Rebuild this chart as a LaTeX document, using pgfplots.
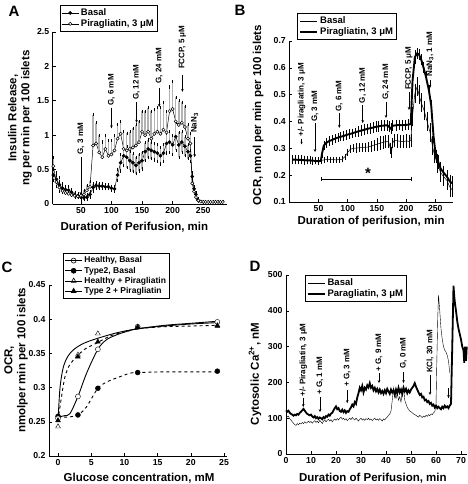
\documentclass[border=0pt]{standalone}
\usepackage{fontspec}
\setmainfont{Liberation Sans}
\usepackage{pgfplots}
\usepackage{pgfplotstable}
\pgfplotsset{compat=1.18}
\usetikzlibrary{arrows.meta}

\newcommand{\tkf}{\fontsize{8.7}{10}\selectfont\bfseries}
\newcommand{\lbf}{\fontsize{11.5}{13}\selectfont\bfseries}
\newcommand{\anf}{\fontsize{8}{9}\selectfont\bfseries}
\newcommand{\lgf}{\fontsize{9.5}{10}\selectfont\bfseries}
\newcommand{\lgc}{\fontsize{8.5}{9}\selectfont\bfseries}
\newcommand{\annot}[5]{%
  \draw[-{Stealth[length=3pt,width=2.6pt]}, line width=0.5pt] (axis cs:#1,#2) -- (axis cs:#1,#3);
  \node[rotate=90, anchor=west, font=\anf, inner sep=0pt] at (axis cs:#1,#4) {#5};}

\pgfplotsset{
  panel/.style={
    scale only axis, axis lines=left, axis line style={-, line width=0.8pt},
    tick align=inside, major tick length=3pt, tick style={black, line width=0.6pt},
    ticklabel style={font=\tkf}, /pgf/number format/assume math mode=true,
    label style={font=\lbf},
    legend style={draw=black, line width=0.5pt, fill=white, font=\lgf, inner sep=1.5pt, row sep=-1.5pt},
    legend cell align=left,
    clip=false,
  },
}

% ---------- Panel A ----------
\pgfplotstableread{
x y e
5 0.42 0.08
10 0.36 0.10
15 0.28 0.10
20 0.23 0.06
25 0.21 0.05
30 0.20 0.05
35 0.17 0.04
40 0.13 0.04
45 0.12 0.03
50 0.10 0.03
55 0.09 0.03
60 0.10 0.03
65 0.14 0.04
70 0.24 0.05
75 0.27 0.04
80 0.26 0.04
85 0.26 0.03
90 0.25 0.03
95 0.25 0.03
100 0.23 0.03
105 0.22 0.03
110 0.42 0.08
115 0.60 0.12
120 0.70 0.14
125 0.68 0.15
130 0.63 0.14
135 0.60 0.13
140 0.56 0.12
145 0.60 0.12
150 0.63 0.12
155 0.76 0.13
160 0.80 0.13
165 0.78 0.12
170 0.76 0.12
175 0.74 0.12
180 0.70 0.12
185 0.74 0.12
190 0.88 0.14
195 0.90 0.15
200 0.86 0.14
205 0.98 0.20
210 0.86 0.18
215 0.90 0.15
220 0.84 0.14
225 0.76 0.10
229 0.70 0.08
232 0.40 0.05
235 0.22 0.03
238 0.14 0.02
241 0.06 0.02
}\Abasal
\pgfplotstableread{
x y e
5 0.55 0.12
10 0.32 0.10
15 0.24 0.08
20 0.19 0.06
25 0.16 0.05
30 0.15 0.05
35 0.13 0.04
40 0.12 0.04
45 0.11 0.04
50 0.12 0.05
55 0.14 0.06
60 0.20 0.07
65 0.25 0.08
70 0.85 0.45
75 0.88 0.30
80 0.75 0.25
85 0.68 0.22
90 0.80 0.20
95 0.70 0.22
100 0.72 0.20
105 0.78 0.22
110 0.95 0.20
115 1.02 0.18
120 0.80 0.25
125 0.78 0.25
130 0.80 0.25
135 0.82 0.28
140 0.85 0.30
145 0.90 0.30
150 1.05 0.30
155 1.00 0.35
160 1.05 0.35
165 0.95 0.40
170 1.02 0.35
175 1.05 0.35
180 1.02 0.38
185 1.08 0.40
190 1.04 0.30
195 1.35 0.35
200 1.38 0.40
205 1.20 0.35
210 1.15 0.35
215 1.18 0.30
220 1.12 0.30
225 0.95 0.20
229 0.88 0.15
232 0.30 0.05
235 0.18 0.03
238 0.10 0.02
242 0.05 0.01
246 0.035 0.005
250 0.03 0.005
254 0.03 0.005
258 0.03 0.005
262 0.03 0.005
266 0.03 0.005
270 0.03 0.005
274 0.03 0.005
278 0.03 0.005
282 0.03 0.005
}\Apir

% ---------- Panel B ----------
\pgfplotstableread{
x y e
5 0.258 0.012
10 0.258 0.012
15 0.257 0.012
20 0.258 0.012
25 0.256 0.012
30 0.256 0.010
35 0.255 0.010
40 0.254 0.010
45 0.253 0.008
50 0.254 0.008
55 0.255 0.008
60 0.257 0.006
65 0.259 0.006
70 0.258 0.006
75 0.258 0.006
80 0.257 0.006
85 0.258 0.006
90 0.259 0.006
95 0.268 0.006
100 0.285 0.008
105 0.297 0.010
110 0.300 0.010
115 0.301 0.012
120 0.302 0.012
125 0.303 0.012
130 0.304 0.012
135 0.305 0.012
140 0.308 0.015
145 0.312 0.015
150 0.315 0.018
155 0.319 0.020
160 0.322 0.020
165 0.325 0.020
170 0.326 0.020
173 0.300 0.015
175 0.285 0.015
177 0.320 0.015
180 0.330 0.020
185 0.328 0.020
190 0.326 0.020
195 0.325 0.020
200 0.327 0.020
205 0.326 0.020
208 0.330 0.020
211 0.420 0.030
215 0.505 0.030
219 0.530 0.030
222 0.500 0.030
226 0.470 0.030
231 0.440 0.030
236 0.400 0.030
241 0.360 0.030
245 0.310 0.030
248 0.280 0.030
253 0.245 0.030
259 0.210 0.030
264 0.195 0.030
270 0.180 0.030
275 0.155 0.030
279 0.145 0.020
}\Bbasal
\pgfplotstableread{
x y e
5 0.258 0.012
10 0.258 0.012
15 0.257 0.012
20 0.257 0.012
25 0.256 0.012
30 0.255 0.010
35 0.255 0.010
40 0.254 0.010
45 0.253 0.008
50 0.252 0.008
54 0.253 0.008
56 0.280 0.010
59 0.310 0.012
63 0.320 0.012
68 0.327 0.012
73 0.331 0.012
78 0.336 0.012
83 0.340 0.012
88 0.343 0.012
93 0.346 0.012
98 0.350 0.012
103 0.353 0.012
108 0.356 0.012
113 0.360 0.012
118 0.363 0.015
123 0.366 0.015
128 0.369 0.015
133 0.372 0.015
138 0.375 0.015
143 0.377 0.015
148 0.380 0.015
153 0.382 0.015
158 0.384 0.015
163 0.385 0.015
168 0.386 0.015
171 0.380 0.015
174 0.373 0.015
177 0.384 0.015
183 0.386 0.015
188 0.387 0.015
193 0.386 0.015
198 0.387 0.015
203 0.388 0.015
208 0.390 0.015
211 0.550 0.020
215 0.640 0.020
219 0.654 0.015
222 0.650 0.015
226 0.630 0.015
230 0.600 0.015
234 0.567 0.015
239 0.517 0.015
243 0.460 0.015
247 0.345 0.020
251 0.270 0.020
255 0.250 0.020
259 0.225 0.020
264 0.210 0.020
270 0.194 0.020
275 0.176 0.020
279 0.170 0.020
}\Bpir

% ---------- Panel D ----------
\pgfplotstableread{
x y
0 122
0.5 118
1 121
1.5 115
2 112
2.5 110
3 107
3.5 110
4 108
4.5 112
5 110
5.5 115
6 118
6.5 122
7 126
7.5 121
8 116
8.5 112
9 110
9.5 108
10 110
10.5 105
11 102
11.5 106
12 100
12.5 103
13 98
13.5 102
14 100
14.5 97
15 103
15.5 100
16 106
16.5 104
17 110
17.5 107
18 113
18.5 115
19 122
19.5 128
20 133
20.5 125
21 128
21.5 120
22 118
22.5 124
23 117
23.5 122
24 115
24.5 120
25 118
25.5 125
26 130
26.5 138
27 133
27.5 145
28 140
28.5 158
29 170
29.5 185
30 178
30.5 190
31 172
31.5 185
32 180
32.5 192
33 186
33.5 198
34 185
34.5 190
35 178
35.5 185
36 175
36.5 182
37 172
37.5 180
38 170
38.5 176
39 168
39.5 178
40 170
40.5 182
41 175
41.5 168
42 180
42.5 172
43 178
43.5 165
44 180
44.5 170
45 185
45.5 172
46 180
46.5 168
47 185
47.5 175
48 182
48.5 170
49 178
49.5 172
50 180
50.5 185
51 190
51.5 198
52 188
52.5 180
53 172
53.5 165
54 168
54.5 158
55 160
55.5 150
56 152
56.5 145
57 148
57.5 140
58 143
58.5 135
59 138
59.5 130
60 135
60.5 128
61 132
61.5 128
62 125
62.5 132
63 128
63.5 135
64 130
64.5 133
65 128
65.5 135
66 140
66.5 300
67 470
67.3 440
67.6 420
68 400
68.5 370
69 350
69.5 335
70 320
70.5 300
71 290
71.3 255
71.6 300
72 260
72.3 300
}\Dpir
\pgfplotstableread{
x y
0 108
0.5 104
1 106
1.5 98
2 95
2.5 90
3 86
3.5 82
4 80
4.5 85
5 82
5.5 86
6 84
6.5 88
7 85
7.5 90
8 86
8.5 88
9 92
9.5 88
10 91
10.5 86
11 90
11.5 93
12 88
12.5 92
13 87
13.5 94
14 90
14.5 85
15 92
15.5 95
16 90
16.5 94
17 97
17.5 92
18 96
18.5 90
19 95
19.5 98
20 94
20.5 99
21 95
21.5 100
22 103
22.5 97
23 100
23.5 95
24 99
24.5 93
25 97
25.5 100
26 96
26.5 102
27 98
27.5 95
28 100
28.5 96
29 92
29.5 97
30 100
30.5 95
31 98
31.5 94
32 99
32.5 96
33 100
33.5 95
34 98
34.5 93
35 97
35.5 100
36 95
36.5 98
37 94
37.5 99
38 96
38.5 92
39 98
39.5 95
40 100
40.5 103
41 108
41.5 112
42 120
42.5 150
43 185
43.5 165
44 155
44.5 170
45 150
45.5 160
46 145
46.5 175
47 190
47.5 150
48 140
48.5 130
49 125
49.5 120
50 118
50.5 115
51 112
51.5 110
52 108
52.5 105
53 103
53.5 108
54 105
54.5 102
55 106
55.5 103
56 108
56.5 105
57 110
57.5 107
58 112
58.5 110
59 115
59.5 118
60 135
60.3 250
60.7 380
61 444
61.5 400
62 350
62.5 320
63 300
63.5 290
64 285
64.5 275
65 260
65.3 240
65.6 225
}\Dbasal

\begin{document}
\begin{tikzpicture}
\useasboundingbox (0,0) rectangle (467pt,484pt);

% ================= A =================
\begin{axis}[panel, at={(52.7pt,280pt)}, anchor=south west,
  width=173.8pt, height=172pt, xmin=4, xmax=288, ymin=0, ymax=2.5,
  xtick={50,100,150,200,250}, ytick={0,0.5,1,1.5,2,2.5},
  xlabel={Duration of Perifusion, min},
  xlabel style={at={(axis description cs:0.47,-0.134)}, anchor=center},
  ylabel={Insulin Release,\\ng per min per 100 islets},
  ylabel style={align=center, at={(axis description cs:-0.188,0.5)}, anchor=center},
  legend style={at={(axis description cs:0.04,1.157)}, anchor=north west}]
\addplot[black, line width=0.5pt, mark=*, mark size=1.6pt,
  error bars/.cd, y dir=both, y explicit,
  error bar style={gray!60, line width=1.5pt},
  error mark options={black, line width=0.4pt, mark size=1.6pt}]
  table[x=x, y=y, y error=e] {\Abasal};
\addlegendentry{Basal}
\addplot[black, line width=0.5pt, mark=*, mark size=1.6pt, mark options={fill=white},
  error bars/.cd, y dir=plus, y explicit,
  error bar style={gray!60, line width=1.5pt},
  error mark options={black, line width=0.4pt, mark size=1.6pt}]
  table[x=x, y=y, y error=e] {\Apir};
\addlegendentry{Piragliatin, 3 μM}
\annot{50}{0.68}{0.13}{0.72}{G, 3 mM}
\annot{100}{1.40}{1.10}{1.43}{G, 6 mM}
\annot{141}{1.48}{1.18}{1.51}{G, 12 mM}
\annot{178}{1.69}{1.41}{1.75}{G, 24 mM}
\annot{216}{1.875}{1.63}{1.96}{FCCP, 5 μM}
\annot{236}{0.97}{0.68}{1.03}{NaN\textsubscript{3}}
\end{axis}

% ================= B =================
\begin{axis}[panel, at={(289.3pt,282pt)}, anchor=south west,
  width=163.5pt, height=161pt, xmin=0, xmax=280, ymin=0.1, ymax=0.7,
  xtick={50,100,150,200,250}, ytick={0.1,0.2,...,0.7},
  yticklabel style={/pgf/number format/fixed},
  xlabel={Duration of perifusion, min},
  xlabel style={at={(axis description cs:0.5,-0.122)}, anchor=center},
  ylabel={OCR, nmol per min per 100 islets},
  ylabel style={at={(axis description cs:-0.191,0.54)}, anchor=center},
  legend style={at={(axis description cs:0.05,1.174)}, anchor=north west}]
\addplot[black, line width=0.5pt,
  error bars/.cd, y dir=both, y explicit,
  error bar style={black, line width=0.4pt},
  error mark options={black, line width=0.4pt, mark size=1.4pt}]
  table[x=x, y=y, y error=e] {\Bbasal};
\addlegendentry{Basal}
\addplot[black, line width=1.9pt,
  error bars/.cd, y dir=both, y explicit,
  error bar style={black, line width=0.4pt},
  error mark options={black, line width=0.4pt, mark size=1.4pt}]
  table[x=x, y=y, y error=e] {\Bpir};
\addlegendentry{Piragliatin, 3 μM}
\draw[line width=0.5pt, -{Stealth[length=2.5pt,width=2.2pt]}] (axis cs:21,0.335) -- (axis cs:21,0.315);
\node[rotate=90, anchor=west, font=\anf, inner sep=0pt] at (axis cs:21,0.345) {+/- Piragliatin, 3 μM};
\annot{44}{0.394}{0.286}{0.398}{G, 3 mM}
\annot{85.6}{0.432}{0.376}{0.436}{G, 6 mM}
\annot{125.7}{0.46}{0.394}{0.468}{G, 12 mM}
\annot{165.6}{0.473}{0.413}{0.48}{G, 24 mM}
\annot{205}{0.51}{0.443}{0.517}{FCCP, 5 μM}
\annot{241}{0.555}{0.525}{0.566}{NaN\textsubscript{3}, 1 mM}
\draw[line width=0.5pt] (axis cs:55.5,0.186) -- (axis cs:209.6,0.186);
\draw[line width=0.5pt] (axis cs:55.5,0.178) -- (axis cs:55.5,0.194);
\draw[line width=0.5pt] (axis cs:209.6,0.178) -- (axis cs:209.6,0.194);
\node[font=\fontsize{15}{15}\selectfont\bfseries, anchor=south, inner sep=0pt] at (axis cs:135,0.188) {*};
\end{axis}

% ================= C =================
\begin{axis}[panel, at={(49pt,28pt)}, anchor=south west,
  width=178pt, height=171pt, xmin=-1.36, xmax=25.45, ymin=0.2, ymax=0.45,
  xtick={0,5,...,25}, ytick={0.2,0.25,...,0.45},
  yticklabel style={/pgf/number format/fixed, /pgf/number format/precision=2},
  xlabel={Glucose concentration, mM},
  xlabel style={at={(axis description cs:0.506,-0.129)}, anchor=center},
  ylabel={OCR,\\nmolper min per 100 islets},
  ylabel style={align=center, at={(axis description cs:-0.185,0.56)}, anchor=center},
  legend style={at={(axis description cs:0.079,1.187)}, anchor=north west, font=\lgc}]
\addlegendimage{black, line width=0.6pt, mark=o, mark size=2.5pt}
\addlegendentry{Healthy, Basal}
\addlegendimage{black, line width=0.6pt, mark=*, mark size=2.5pt}
\addlegendentry{Type2, Basal}
\addlegendimage{black, line width=0.6pt, mark=triangle, mark size=2.8pt}
\addlegendentry{Healthy + Piragliatin}
\addlegendimage{black, line width=0.6pt, mark=triangle*, mark size=2.8pt}
\addlegendentry{Type 2 + Piragliatin}
% fitted curves
\addplot[forget plot, black, line width=0.9pt, smooth] coordinates {
 (0,0.257) (1,0.259) (1.8,0.262) (3,0.287) (4.3,0.321) (6,0.356) (7.3,0.370) (8.8,0.377) (10.3,0.382) (12,0.386) (16,0.391) (20,0.394) (24,0.397)};
\addplot[forget plot, black, line width=0.9pt, smooth] coordinates {
 (0,0.252) (0.3,0.30) (0.8,0.33) (1.5,0.346) (2.3,0.355) (3.5,0.363) (5.3,0.370) (8.8,0.380) (12,0.386) (16,0.390) (20,0.393) (24,0.395)};
\addplot[forget plot, black, line width=0.9pt, dashed, smooth] coordinates {
 (0,0.252) (0.5,0.285) (1.05,0.316) (1.8,0.334) (2.8,0.345) (4,0.356) (5.8,0.365) (8,0.376) (10.3,0.382) (12,0.386) (16,0.389) (20,0.390) (24,0.391)};
\addplot[forget plot, black, line width=0.9pt, dashed, smooth] coordinates {
 (0,0.257) (1.5,0.257) (3,0.260) (4.3,0.272) (6,0.299) (7.5,0.309) (8.8,0.314) (10.8,0.321) (12,0.322) (16,0.323) (20,0.323) (24,0.323)};
% data points
\addplot[forget plot, only marks, black, mark=*, mark size=2.5pt] coordinates {(0,0.258) (3,0.260) (6,0.299) (12,0.322) (24,0.324)};
\addplot[forget plot, only marks, black, mark=*, mark size=2.5pt, mark options={fill=white}] coordinates {(0,0.255) (3,0.287) (6,0.356) (12,0.389) (24,0.396)};
\addplot[forget plot, only marks, black, mark=triangle*, mark size=2.8pt, mark options={fill=white}] coordinates {(0,0.243) (3,0.348) (6,0.379) (12,0.389) (24,0.391)};
\addplot[forget plot, only marks, black, mark=triangle*, mark size=2.8pt] coordinates {(0,0.252) (3,0.345) (6,0.367) (12,0.388) (24,0.390)};
\end{axis}

% ================= D =================
\begin{axis}[panel, at={(286pt,30pt)}, anchor=south west,
  width=181pt, height=179pt, xmin=0, xmax=72.4, ymin=0, ymax=500,
  xtick={0,10,...,70}, ytick={0,100,...,500},
  xlabel={Duration of Perifusion, min},
  xlabel style={at={(axis description cs:0.48,-0.134)}, anchor=center},
  ylabel={Cytosolic Ca\textsuperscript{2+}, nM},
  ylabel style={at={(axis description cs:-0.171,0.447)}, anchor=center},
  legend style={at={(axis description cs:0.105,1.0)}, anchor=north west}]
\addplot[black, line width=0.4pt] table[x=x, y=y] {\Dbasal};
\addlegendentry{Basal}
\addplot[black, line width=1.8pt] table[x=x, y=y] {\Dpir};
\addlegendentry{Paragliatin, 3 μM}
\annot{6.9}{156}{131}{160}{+/- Piragliatin, 3 μM}
\annot{13.6}{159}{117}{165}{+ G, 1 mM}
\annot{24.5}{179}{142}{187}{+ G, 3 mM}
\annot{37.2}{226}{198}{230}{+ G, 9 mM}
\annot{47}{229}{198}{238}{G, 0 mM}
\annot{57.6}{221}{165}{226}{KCl, 30 mM}
\draw[-{Stealth[length=3pt,width=2.6pt]}, line width=0.5pt] (axis cs:65,184) -- (axis cs:65,156);
\end{axis}

% panel letters
\node[font=\fontsize{15}{15}\selectfont\bfseries] at (14pt,473pt) {A};
\node[font=\fontsize{15}{15}\selectfont\bfseries] at (240pt,474pt) {B};
\node[font=\fontsize{15}{15}\selectfont\bfseries] at (7pt,217pt) {C};
\node[font=\fontsize{15}{15}\selectfont\bfseries] at (255pt,218pt) {D};
\end{tikzpicture}
\end{document}
